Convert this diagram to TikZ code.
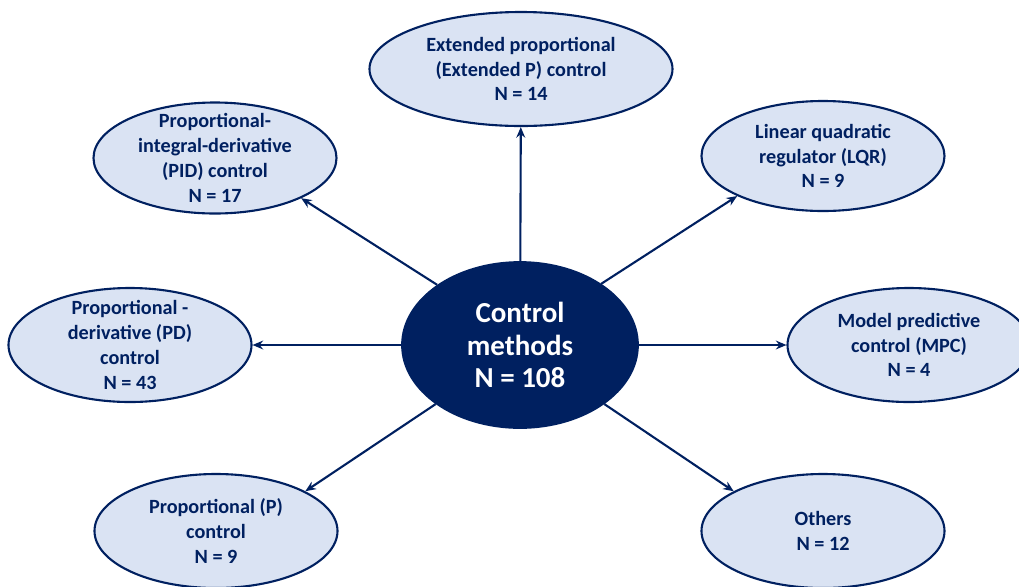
\documentclass[tikz,border=0pt]{standalone}
\usepackage{fontspec}
\setmainfont{Carlito}
\usepackage{tikz}
\usetikzlibrary{positioning}
\usetikzlibrary{shapes.geometric}
\usetikzlibrary{arrows.meta}
\definecolor{navy}{HTML}{002060}
\definecolor{paleblue}{HTML}{DAE3F3}
\newlength{\unit}
\setlength{\unit}{0.02cm}
\tikzset{
    method/.style = {ellipse, draw=navy, fill=paleblue, line width=1.2pt,
        inner sep=-30pt, align=center, text=navy,
        minimum width=243\unit, minimum height=114\unit,
        font=\fontsize{11.5}{14.1}\selectfont\bfseries},
    hub/.style = {ellipse, draw=navy, fill=navy, line width=1pt,
        inner sep=-30pt, align=center, text=white,
        minimum width=236\unit, minimum height=166\unit,
        font=\fontsize{16.5}{18.6}\selectfont\bfseries},
    link/.style = {-{Stealth[length=6pt,width=5pt]}, draw=navy, line width=1.2pt}}

\begin{document}
\begin{tikzpicture}[x=0.02cm, y=-0.02cm]
    \useasboundingbox (0,0) rectangle (1019,586);
    \node[hub] (C) at (520,345) {Control\\methods\\N = 108};
    \node[method, minimum width=303\unit] (EP) at (521,69)
        {Extended proportional\\(Extended P) control\\N = 14};
    \node[method, minimum height=111\unit] (PID) at (215,158)
        {Proportional-\\integral-derivative\\(PID) control\\N = 17};
    \node[method, minimum height=110\unit] (LQR) at (823,156)
        {Linear quadratic\\regulator (LQR)\\N = 9};
    \node[method] (PD) at (130,345)
        {Proportional -\\derivative (PD)\\control\\N = 43};
    \node[method] (MPC) at (909,345)
        {Model predictive\\control (MPC)\\N = 4};
    \node[method] (P) at (216,531)
        {Proportional (P)\\control\\N = 9};
    \node[method] (OT) at (823,531)
        {Others\\N = 12};
    % spokes
    \draw[link] (C) -- (EP);
    \draw[link] (C.144) -- (PID.335);
    \draw[link] (C.37) -- (LQR.205);
    \draw[link] (C) -- (PD);
    \draw[link] (C) -- (MPC);
    \draw[link] (C.215) -- (P.24);
    \draw[link] (C.325) -- (OT.156);
\end{tikzpicture}
\end{document}
